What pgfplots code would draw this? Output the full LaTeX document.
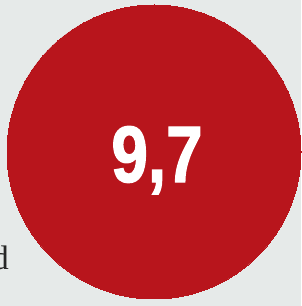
\documentclass[border=0pt]{standalone}
\usepackage{pgfplots}
\pgfplotsset{compat=1.18}
\usepackage{fontspec}
\setmainfont{Liberation Serif}
\newfontfamily\numfont[FakeStretch=0.82, FakeBold=1.5]{Liberation Sans}
\definecolor{bg}{HTML}{E6EAE9}
\definecolor{circred}{HTML}{B8151C}
\begin{document}
\begin{tikzpicture}
\begin{axis}[
  width=301pt, height=306pt, scale only axis,
  xmin=0, xmax=301, ymin=0, ymax=306,
  hide axis, clip=true,
]
\fill[bg] (rel axis cs:0,0) rectangle (rel axis cs:1,1);
\addplot[only marks, color=circred, mark=*, mark size=147pt, mark options={draw=circred, fill=circred, line width=0pt}] coordinates {(154,154)};
\coordinate (lab) at (axis cs:157,124);
\node[text=black!85, font=\fontsize{34}{34}\selectfont, anchor=base east, inner sep=0pt] at (axis cs:9,36) {d};
\end{axis}
\node[text=white, font=\numfont\bfseries\fontsize{80}{80}\selectfont, anchor=base, inner sep=0pt] at (lab) {9,7};
\end{tikzpicture}
\end{document}
